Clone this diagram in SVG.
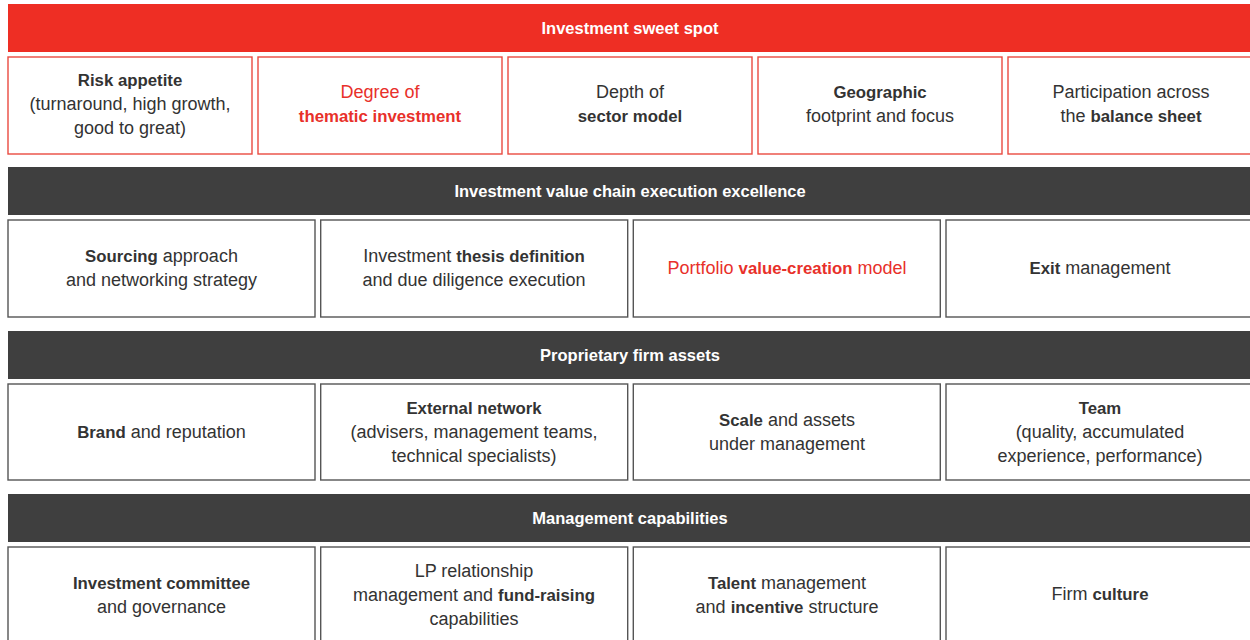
<svg xmlns="http://www.w3.org/2000/svg" width="1250" height="640" viewBox="0 0 1250 640">
<style>
.bg{fill:#ffffff}
.red-bar{fill:#ee2e24}
.dark-bar{fill:#3f3f3f}
.hdr{font-family:"Liberation Sans",Arial,sans-serif;font-size:16.5px;font-weight:bold;fill:#ffffff;text-anchor:middle}
.rbox{fill:#ffffff;stroke:#ea4a40;stroke-width:1.4}
.gbox{fill:#ffffff;stroke:#555555;stroke-width:1.4}
.t{font-family:"Liberation Sans",Arial,sans-serif;font-size:18px;fill:#333333;text-anchor:middle}
.tr{font-family:"Liberation Sans",Arial,sans-serif;font-size:18px;fill:#e8302a;text-anchor:middle}
.b{font-weight:bold;font-size:16.8px}
</style>
<rect class="bg" x="0" y="0" width="1250" height="640"/>

<g id="sweet-spot-header">
<rect class="red-bar" x="8" y="4" width="1250" height="48"/>
<text class="hdr" x="630" y="34">Investment sweet spot</text>
</g>
<g id="risk-appetite">
<rect class="rbox" x="8" y="57" width="244" height="97"/>
<text class="t" x="130" y="86"><tspan class="b">Risk appetite</tspan></text>
<text class="t" x="130" y="110">(turnaround, high growth,</text>
<text class="t" x="130" y="134">good to great)</text>
</g>
<g id="thematic-investment">
<rect class="rbox" x="258" y="57" width="244" height="97"/>
<text class="tr" x="380" y="98">Degree of</text>
<text class="tr" x="380" y="122"><tspan class="b">thematic investment</tspan></text>
</g>
<g id="sector-model">
<rect class="rbox" x="508" y="57" width="244" height="97"/>
<text class="t" x="630" y="98">Depth of</text>
<text class="t" x="630" y="122"><tspan class="b">sector model</tspan></text>
</g>
<g id="geographic">
<rect class="rbox" x="758" y="57" width="244" height="97"/>
<text class="t" x="880" y="98"><tspan class="b">Geographic</tspan></text>
<text class="t" x="880" y="122">footprint and focus</text>
</g>
<g id="balance-sheet">
<rect class="rbox" x="1008" y="57" width="250" height="97"/>
<text class="t" x="1131" y="98">Participation across</text>
<text class="t" x="1131" y="122">the <tspan class="b">balance sheet</tspan></text>
</g>

<g id="value-chain-header">
<rect class="dark-bar" x="8" y="167" width="1250" height="48"/>
<text class="hdr" x="630" y="197">Investment value chain execution excellence</text>
</g>
<g id="sourcing">
<rect class="gbox" x="8" y="220" width="307" height="97"/>
<text class="t" x="161.5" y="262"><tspan class="b">Sourcing</tspan> approach</text>
<text class="t" x="161.5" y="286">and networking strategy</text>
</g>
<g id="thesis">
<rect class="gbox" x="320.7" y="220" width="307" height="97"/>
<text class="t" x="474" y="262">Investment <tspan class="b">thesis definition</tspan></text>
<text class="t" x="474" y="286">and due diligence execution</text>
</g>
<g id="value-creation">
<rect class="gbox" x="633.3" y="220" width="307" height="97"/>
<text class="tr" x="787" y="274">Portfolio <tspan class="b">value-creation</tspan> model</text>
</g>
<g id="exit">
<rect class="gbox" x="946" y="220" width="310" height="97"/>
<text class="t" x="1100" y="274"><tspan class="b">Exit</tspan> management</text>
</g>

<g id="firm-assets-header">
<rect class="dark-bar" x="8" y="331" width="1250" height="48"/>
<text class="hdr" x="630" y="360.5">Proprietary firm assets</text>
</g>
<g id="brand">
<rect class="gbox" x="8" y="384" width="307" height="96"/>
<text class="t" x="161.5" y="438"><tspan class="b">Brand</tspan> and reputation</text>
</g>
<g id="external-network">
<rect class="gbox" x="320.7" y="384" width="307" height="96"/>
<text class="t" x="474" y="414"><tspan class="b">External network</tspan></text>
<text class="t" x="474" y="438">(advisers, management teams,</text>
<text class="t" x="474" y="462">technical specialists)</text>
</g>
<g id="scale">
<rect class="gbox" x="633.3" y="384" width="307" height="96"/>
<text class="t" x="787" y="426"><tspan class="b">Scale</tspan> and assets</text>
<text class="t" x="787" y="450">under management</text>
</g>
<g id="team">
<rect class="gbox" x="946" y="384" width="310" height="96"/>
<text class="t" x="1100" y="414"><tspan class="b">Team</tspan></text>
<text class="t" x="1100" y="438">(quality, accumulated</text>
<text class="t" x="1100" y="462">experience, performance)</text>
</g>

<g id="management-header">
<rect class="dark-bar" x="8" y="494" width="1250" height="48"/>
<text class="hdr" x="630" y="524">Management capabilities</text>
</g>
<g id="investment-committee">
<rect class="gbox" x="8" y="547" width="307" height="100"/>
<text class="t" x="161.5" y="589"><tspan class="b">Investment committee</tspan></text>
<text class="t" x="161.5" y="613">and governance</text>
</g>
<g id="lp-relationship">
<rect class="gbox" x="320.7" y="547" width="307" height="100"/>
<text class="t" x="474" y="577">LP relationship</text>
<text class="t" x="474" y="601">management and <tspan class="b">fund-raising</tspan></text>
<text class="t" x="474" y="625">capabilities</text>
</g>
<g id="talent">
<rect class="gbox" x="633.3" y="547" width="307" height="100"/>
<text class="t" x="787" y="589"><tspan class="b">Talent</tspan> management</text>
<text class="t" x="787" y="613">and <tspan class="b">incentive</tspan> structure</text>
</g>
<g id="culture">
<rect class="gbox" x="946" y="547" width="310" height="100"/>
<text class="t" x="1100" y="600">Firm <tspan class="b">culture</tspan></text>
</g>
</svg>
